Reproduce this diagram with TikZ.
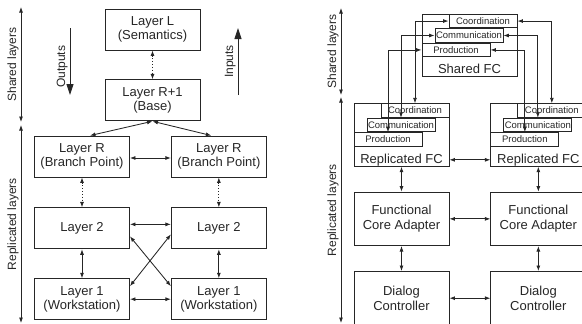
\documentclass[tikz,border=0pt]{standalone}
\usepackage{fontspec}
\setmainfont{Liberation Sans}
\usetikzlibrary{positioning,arrows.meta}

\begin{document}
\begin{tikzpicture}[
    x=1pt, y=-1pt,
    color=black!85,
    >={Latex[length=5.5pt,width=4pt]},
    layerbox/.style={rectangle, draw, line width=0.85pt, minimum width=95pt, minimum height=41pt, align=center, inner sep=0pt, font=\fontsize{13}{14.5}\selectfont},
    fcbox/.style={layerbox, minimum height=53.5pt},
    fcouter/.style={layerbox, minimum height=62.5pt},
    part/.style={rectangle, draw, line width=0.85pt, minimum width=68pt, minimum height=13.6pt, inner sep=0pt, font=\fontsize{9.5}{10}\selectfont},
    fctext/.style={anchor=base, yshift=3.5pt, inner sep=0pt, font=\fontsize{13}{14.5}\selectfont},
    link/.style={<->, line width=0.85pt},
    dotlink/.style={link, dotted},
    flow/.style={-{Triangle[length=11pt,width=7pt]}, line width=0.85pt},
    side/.style={rotate=90, anchor=south, inner sep=2pt, font=\fontsize{12}{12}\selectfont}
  ]
  \useasboundingbox (0,0) rectangle (582,324);

  % Layer stack
  \node[layerbox] (layL) at (152.5,29.5) {Layer L\\(Semantics)};
  \node[layerbox, below=29pt of layL] (layR1) {Layer R+1\\(Base)};
  \node[layerbox] (layRa) at (82,156.5) {Layer R\\(Branch Point)};
  \node[layerbox, right=41pt of layRa] (layRb) {Layer R\\(Branch Point)};
  \node[layerbox, below=30pt of layRa] (lay2a) {Layer 2};
  \node[layerbox, right=41pt of lay2a] (lay2b) {Layer 2};
  \node[layerbox, below=29pt of lay2a] (lay1a) {Layer 1\\(Workstation)};
  \node[layerbox, right=41pt of lay1a] (lay1b) {Layer 1\\(Workstation)};

  % Side arrows, left
  \coordinate (shtopL) at (21,7);
  \coordinate (shbotL) at (21,122);
  \coordinate (rptopL) at (21,125);
  \coordinate (rpbotL) at (21,323);
  \draw[link] (shbotL) -- (shtopL) node[side, midway] {Shared layers};
  \draw[link] (rpbotL) -- (rptopL) node[side, midway] {Replicated layers};

  % Outputs / Inputs
  \coordinate (outtop) at (70,28);
  \coordinate (outbot) at (70,95);
  \coordinate (intop) at (238,28);
  \coordinate (inbot) at (238,95);
  \draw[flow] (outtop) -- (outbot) node[side, pos=0.58] {Outputs};
  \draw[flow] (inbot) -- (intop) node[side, midway] {Inputs};

  % Layer connections
  \draw[dotlink] (layL) -- (layR1);
  \draw[link] (layR1.south) -- ([xshift=8pt]layRa.north);
  \draw[link] (layR1.south) -- ([xshift=-7.5pt]layRb.north);
  \draw[link] ([yshift=-1.5pt]layRa.east) -- ([yshift=-1.5pt]layRb.west);
  \draw[dotlink] (layRa) -- (lay2a);
  \draw[dotlink] (layRb) -- (lay2b);
  \draw[link] ([yshift=4pt]lay2a.east) -- ([yshift=4pt]lay2b.west);
  \draw[link] (lay2a) -- (lay1a);
  \draw[link] (lay2b) -- (lay1b);
  \draw[link] (lay1a.east) -- (lay1b.west);
  \draw[link] ([yshift=-8pt]lay2a.east) -- ([yshift=13pt]lay1b.west);
  \draw[link] ([yshift=-6pt]lay2b.west) -- ([yshift=13pt]lay1a.east);

  % Shared FC
  \node[fcouter] (sfc) at (469.5,45.5) {};
  \node[part, anchor=north east] (scoord) at (sfc.north east) {Coordination};
  \node[part, anchor=north east] (scomm) at ([xshift=-14pt]scoord.south east) {Communication};
  \node[part, anchor=north west] (sprod) at (sfc.west |- scomm.south) {Production};
  \node[fctext] (sfct) at (sfc.south) {Shared FC};

  % Replicated FC, left
  \node[fcouter] (rfcA) at (401.5,135) {};
  \node[part, anchor=north east] (rcoordA) at (rfcA.north east) {Coordination};
  \node[part, anchor=north east] (rcommA) at ([xshift=-14pt]rcoordA.south east) {Communication};
  \node[part, anchor=north west] (rprodA) at (rfcA.west |- rcommA.south) {Production};
  \node[fctext] (rfcAt) at (rfcA.south) {Replicated FC};

  % Replicated FC, right
  \node[fcouter, right=41pt of rfcA] (rfcB) {};
  \node[part, anchor=north east] (rcoordB) at (rfcB.north east) {Coordination};
  \node[part, anchor=north east] (rcommB) at ([xshift=-14pt]rcoordB.south east) {Communication};
  \node[part, anchor=north west] (rprodB) at (rfcB.west |- rcommB.south) {Production};
  \node[fctext] (rfcBt) at (rfcB.south) {Replicated FC};

  % Adapters and controllers
  \node[fcbox, below=25pt of rfcA] (fcaA) {Functional\\Core Adapter};
  \node[fcbox, right=41pt of fcaA] (fcaB) {Functional\\Core Adapter};
  \node[fcbox, below=25pt of fcaA] (dcA) {Dialog\\Controller};
  \node[fcbox, right=41pt of dcA] (dcB) {Dialog\\Controller};

  % Side arrows, right
  \coordinate (shtopR) at (341,8);
  \coordinate (shbotR) at (341,95);
  \coordinate (rptopR) at (341,97);
  \coordinate (rpbotR) at (341,323);
  \draw[link] (shbotR) -- (shtopR) node[side, midway] {Shared layers};
  \draw[link] (rpbotR) -- (rptopR) node[side, midway] {Replicated layers};

  % FC connections
  \draw[link] (rcoordA.north) |- (scoord.west);
  \draw[link] (rcommA.north) |- (scomm.west);
  \draw[link] (rprodA.north) |- (sprod.west);
  \draw[link] (rcoordB.north) |- (scoord.east);
  \draw[link] (rcommB.north) |- (scomm.east);
  \draw[link] (rprodB.north) |- (sprod.east);
  \draw[link] (rfcA.east |- rfcAt) -- (rfcB.west |- rfcAt);
  \draw[link] (rfcA) -- (fcaA);
  \draw[link] (rfcB) -- (fcaB);
  \draw[link] (fcaA) -- (fcaB);
  \draw[link] (fcaA) -- (dcA);
  \draw[link] (fcaB) -- (dcB);
  \draw[link] (dcA) -- (dcB);
\end{tikzpicture}
\end{document}
